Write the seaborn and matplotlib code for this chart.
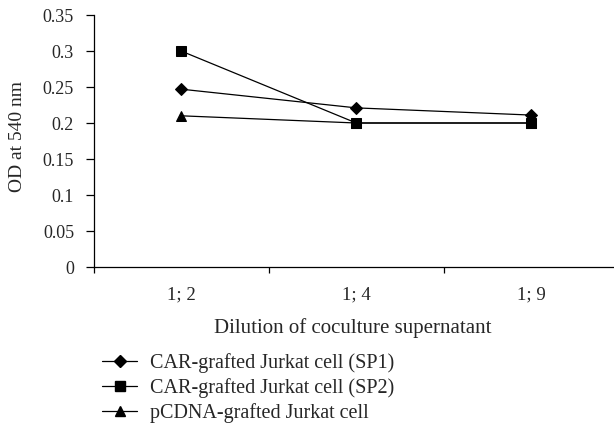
import pandas as pd
import matplotlib.pyplot as plt
import seaborn as sns

##################################################
# Data
##################################################

dilutions = ["1; 2", "1; 4", "1; 9"]
series_names = [
    "CAR-grafted Jurkat cell (SP1)",
    "CAR-grafted Jurkat cell (SP2)",
    "pCDNA-grafted Jurkat cell",
]
sp1 = [0.247, 0.221, 0.211]
sp2 = [0.300, 0.200, 0.200]
pcdna = [0.210, 0.200, 0.200]

y_ticks = [0, 0.05, 0.1, 0.15, 0.2, 0.25, 0.3, 0.35]
y_tick_labels = ["0", "0.05", "0.1", "0.15", "0.2", "0.25", "0.3", "0.35"]

df = pd.DataFrame({
    "dilution": dilutions * 3,
    "od": sp1 + sp2 + pcdna,
    "series": [s for s in series_names for _ in dilutions],
})

##################################################
# Plot
##################################################

sns.set_style("white")
plt.rcParams["font.family"] = ["Liberation Serif", "DejaVu Serif"]

# axes box in pixels: x from 93.5 to 619 (runs past the right edge), y from 15 to 267
fig = plt.figure(figsize=(6.14, 4.25), dpi=100)
ax = fig.add_axes([93.5 / 614, 1 - 267 / 425, (619 - 93.5) / 614, 252 / 425])

markers = dict(zip(series_names, ["D", "s", "^"]))
sizes = {"D": 6.2, "s": 7, "^": 7.5}
sns.lineplot(
    data=df, x="dilution", y="od", style="series", markers=markers,
    dashes=False, color="black", linewidth=0.9,
    markeredgecolor="black", ax=ax, legend=False,
)
for line, name in zip(ax.lines, series_names):
    line.set_markersize(sizes[markers[name]])

ax.set_xlim(-0.5, 2.5)
ax.set_ylim(0, 0.35)
ax.set_yticks(y_ticks)
ax.set_yticklabels(y_tick_labels)
ax.set_xticks(range(len(dilutions)))
ax.set_xticklabels(dilutions)
ax.set_xticks([-0.5, 0.5, 1.5, 2.5], minor=True)
ax.tick_params(axis="x", which="major", bottom=False, length=0, pad=14, labelsize=13.5)
ax.tick_params(axis="x", which="minor", bottom=True, length=4, width=0.9,
               direction="out", color="black")
ax.tick_params(axis="y", left=True, length=6, width=0.9, direction="out",
               color="black", labelsize=13, pad=8)

sns.despine(ax=ax)
for sp in ["left", "bottom"]:
    ax.spines[sp].set_color("black")
    ax.spines[sp].set_linewidth(0.9)

ax.set_ylabel("OD at 540 nm", fontsize=14)
ax.yaxis.set_label_coords((17 - 93.5) / 525.5, (267 - 136) / 252)
ax.yaxis.label.set_va("center")
ax.set_xlabel("Dilution of coculture supernatant", fontsize=15)
ax.xaxis.set_label_coords((353 - 93.5) / 525.5, (267 - 328) / 252)
ax.xaxis.label.set_va("center")

handles = [plt.Line2D([], [], color="black", linewidth=0.9, marker=markers[n],
                      markersize=sizes[markers[n]]) for n in series_names]
fig.legend(handles, series_names, loc="upper left",
           bbox_to_anchor=(102 / 614, 1 - 353 / 425), frameon=False,
           handlelength=1.75, handletextpad=0.65, labelspacing=0.26, fontsize=14.5,
           borderaxespad=0, borderpad=0)

fig.savefig("out.png", dpi=100)
